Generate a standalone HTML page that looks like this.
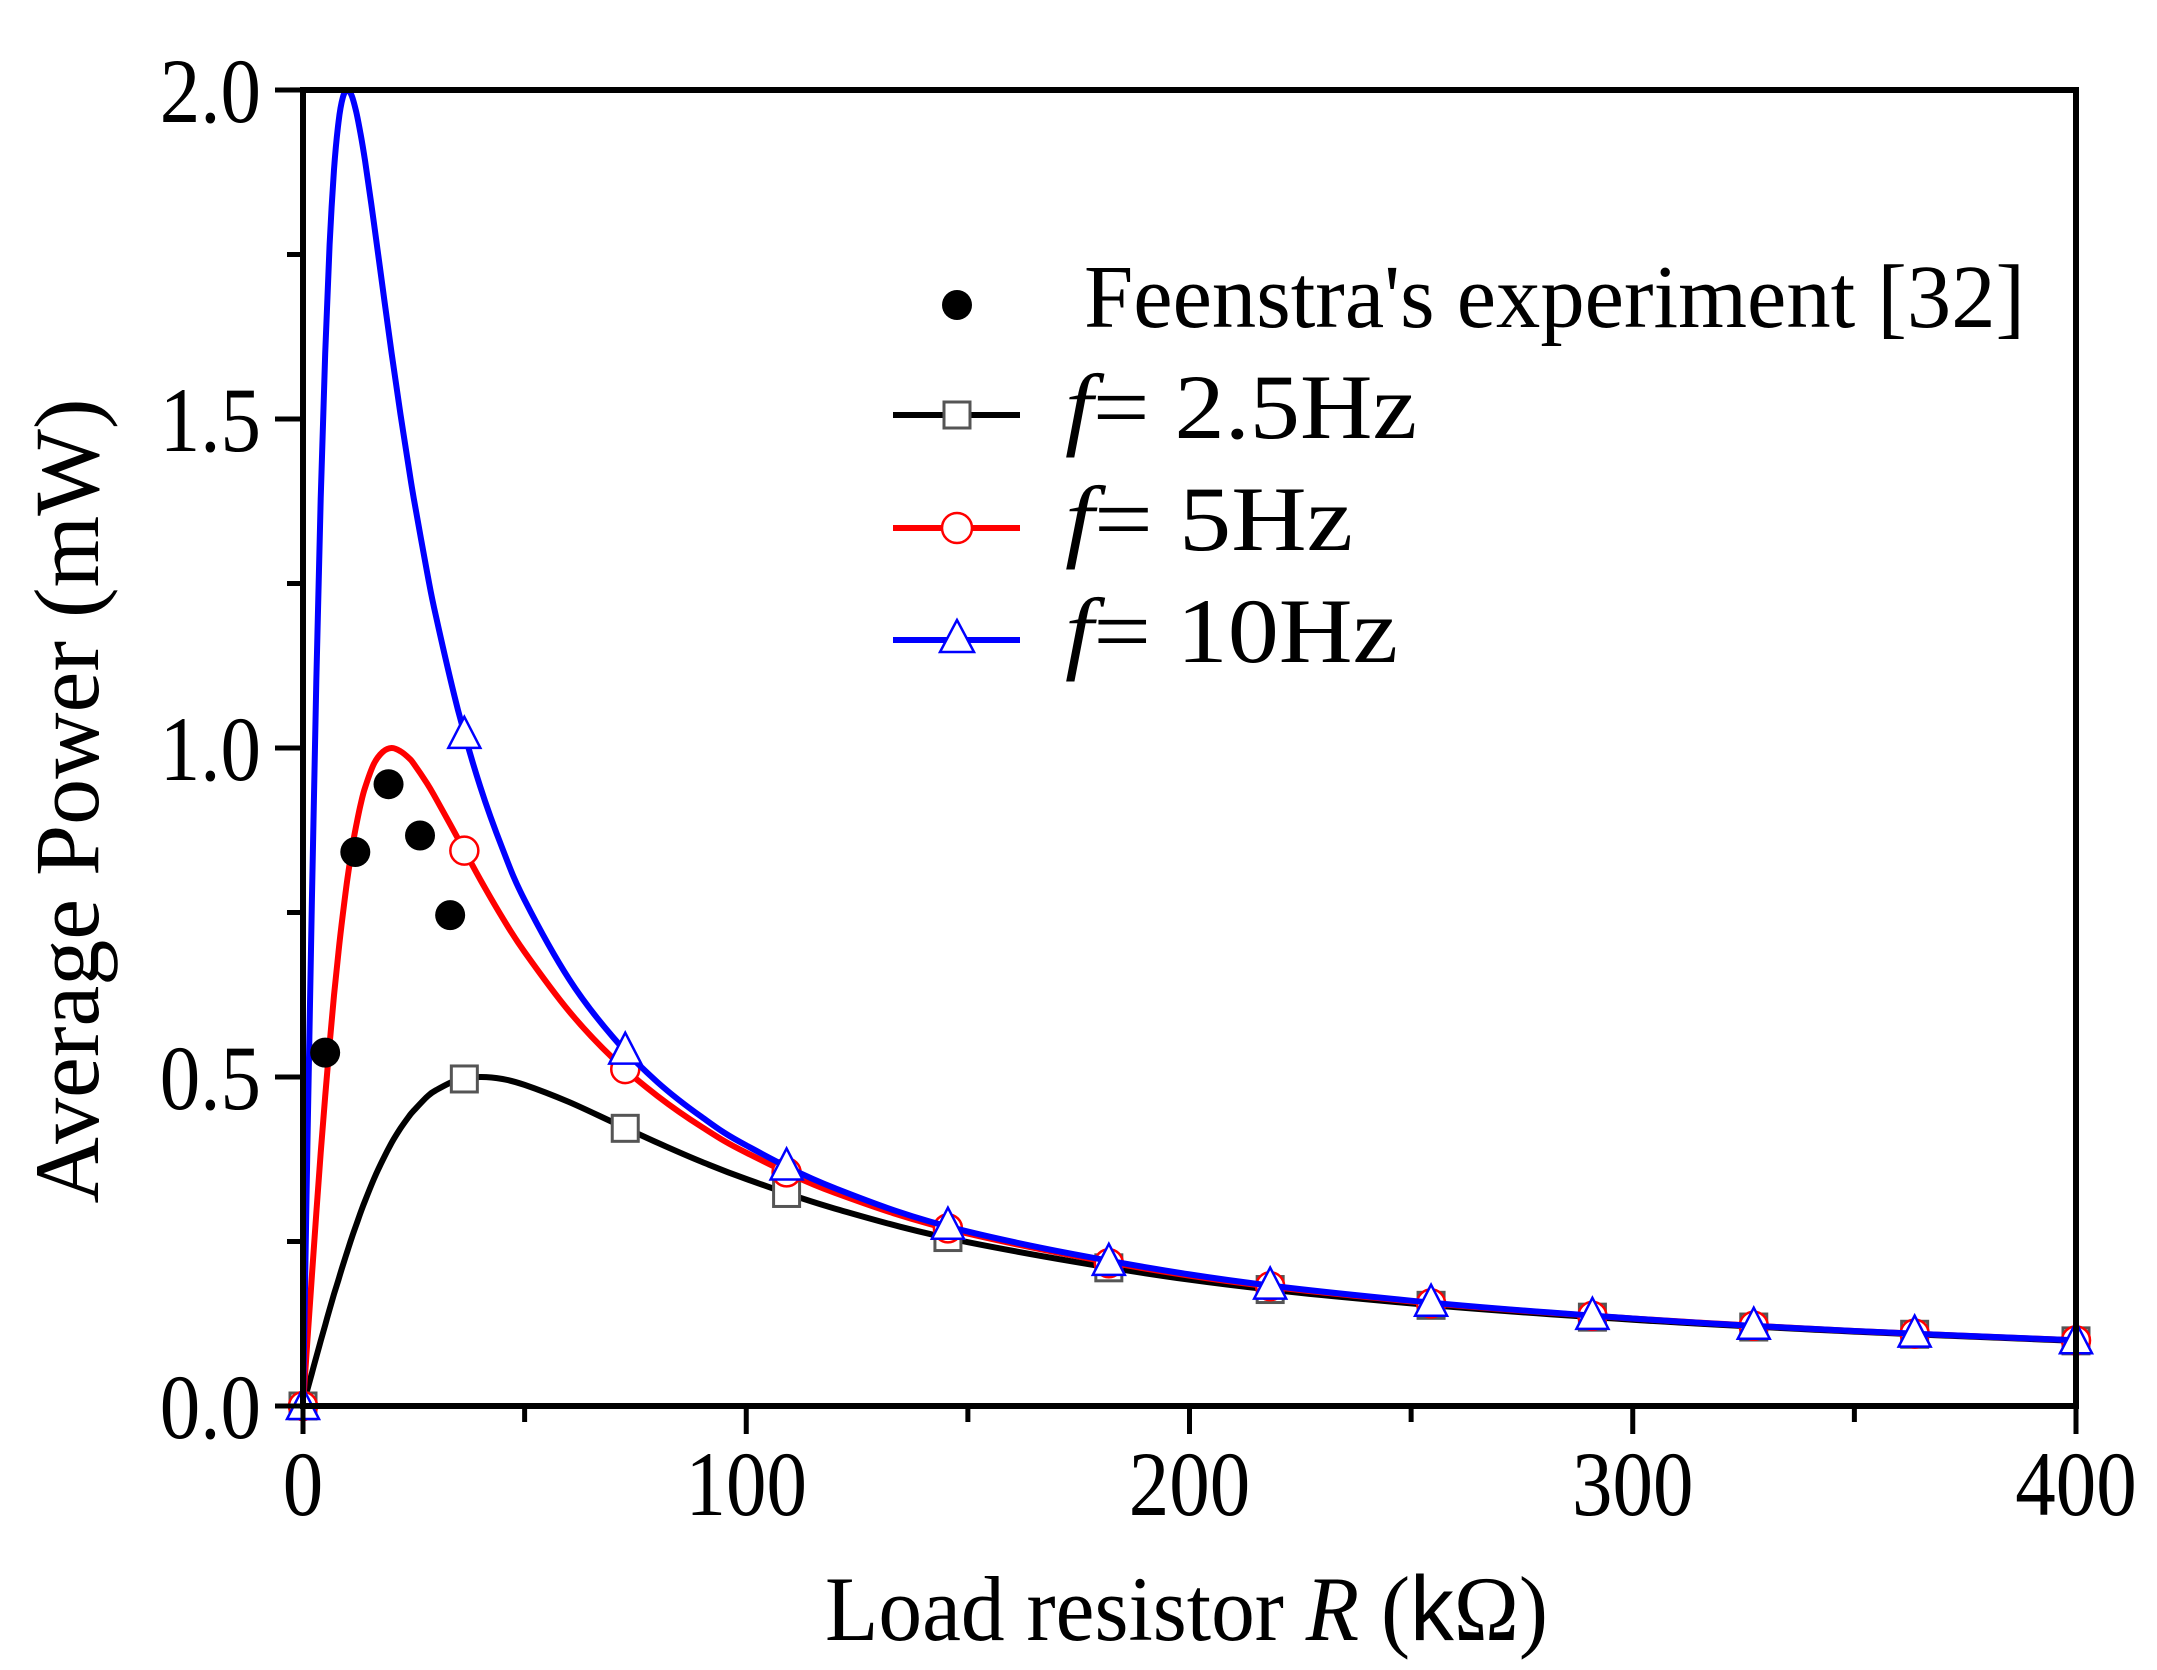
<!DOCTYPE html>
<html><head><meta charset="utf-8"><style>
html,body{margin:0;padding:0;background:#fff;}
svg{display:block;}
text{font-family:"Liberation Serif",serif;fill:#000;}
</style></head><body>
<svg id="chart" width="2157" height="1670" viewBox="0 0 2157 1670" xmlns="http://www.w3.org/2000/svg">
<g id="marks"></g>
<g id="axes"></g>
<g id="legend">
  <circle cx="957" cy="305" r="15" fill="#000"/>
  <text x="1084" y="327" font-size="90" textLength="941" lengthAdjust="spacingAndGlyphs">Feenstra's experiment [32]</text>
  <line x1="893" y1="415" x2="1020" y2="415" stroke="#000" stroke-width="6"/>
  <rect x="944" y="402" width="26" height="26" fill="#fff" stroke="#555" stroke-width="3"/>
  <text x="1065" y="438" font-size="92" textLength="352" lengthAdjust="spacingAndGlyphs"><tspan font-style="italic">f</tspan>= 2.5Hz</text>
  <line x1="893" y1="528" x2="1020" y2="528" stroke="#f00" stroke-width="6"/>
  <circle cx="957" cy="528" r="15" fill="#fff" stroke="#f00" stroke-width="2.5"/>
  <text x="1065" y="550" font-size="92" textLength="288" lengthAdjust="spacingAndGlyphs"><tspan font-style="italic">f</tspan>= 5Hz</text>
  <line x1="893" y1="640" x2="1020" y2="640" stroke="#00f" stroke-width="6"/>
  <polygon points="957,620 940,652 974,652" fill="#fff" stroke="#00f" stroke-width="2.5"/>
  <text x="1065" y="662" font-size="92" textLength="333" lengthAdjust="spacingAndGlyphs"><tspan font-style="italic">f</tspan>= 10Hz</text>
</g>
<text transform="translate(98,801) rotate(-90)" text-anchor="middle" font-size="92" textLength="805" lengthAdjust="spacingAndGlyphs">Average Power (mW)</text>
<text x="825" y="1640" font-size="92" textLength="723" lengthAdjust="spacingAndGlyphs">Load resistor <tspan font-style="italic">R</tspan> (<tspan font-family="Liberation Sans, sans-serif">k</tspan>Ω)</text>
</svg>
<script>
const xTicks=[0,100,200,300,400];
const xMinor=[50,150,250,350];
const yTicks=[0,0.5,1.0,1.5,2.0];
const yMinor=[0.25,0.75,1.25,1.75];
const yTickLabels=["0.0","0.5","1.0","1.5","2.0"];
const curveR=[0,1,2,3,4,5,6,7,8,9,10,11,12,13,14,16,18,20,22,24,25,28,30,35,40,45,50,60,70,80,90,100,120,150,200,250,300,350,400];
const curve25=[0,0.025,0.0499,0.0746,0.099,0.123,0.147,0.170,0.192,0.214,0.235,0.256,0.275,0.294,0.312,0.345,0.374,0.4,0.422,0.441,0.449,0.470,0.48,0.496,0.5,0.497,0.488,0.462,0.431,0.4,0.371,0.345,0.3,0.249,0.192,0.156,0.131,0.113,0.099];
const curve5=[0,0.0998,0.198,0.293,0.385,0.471,0.55,0.624,0.69,0.748,0.8,0.845,0.882,0.914,0.94,0.976,0.994,1.0,0.995,0.984,0.976,0.946,0.923,0.862,0.8,0.742,0.69,0.6,0.528,0.471,0.424,0.385,0.324,0.262,0.198,0.159,0.133,0.114,0.0998];
const curve10=[0,0.396,0.769,1.101,1.379,1.6,1.765,1.879,1.951,1.989,2.0,1.991,1.967,1.933,1.892,1.798,1.698,1.6,1.507,1.42,1.379,1.267,1.2,1.057,0.941,0.847,0.769,0.649,0.56,0.492,0.439,0.396,0.331,0.265,0.2,0.16,0.133,0.114,0.0999];
const markerR=[0,36.4,72.7,109.1,145.5,181.8,218.2,254.5,290.9,327.3,363.6,400];
const marker25=[0,0.497,0.422,0.323,0.256,0.21,0.177,0.153,0.135,0.12,0.109,0.099];
const marker5=[0,0.844,0.512,0.355,0.27,0.217,0.182,0.156,0.137,0.122,0.11,0.0998];
const marker10=[0,1.02,0.54,0.364,0.274,0.219,0.183,0.157,0.137,0.122,0.11,0.0999];
const expR=[5.0,11.8,19.3,26.4,33.2];
const expP=[0.537,0.842,0.945,0.867,0.746];

const X0=303,X1=2076,Y0=1406,Y1=90;
const sx=v=>X0+(v-0)/(400-0)*(X1-X0);
const sy=v=>Y0-(v-0)/(2-0)*(Y0-Y1);
const NS="http://www.w3.org/2000/svg";
const marks=document.getElementById('marks');
const axes=document.getElementById('axes');
function mk(tag,attrs,parent){const e=document.createElementNS(NS,tag);for(const k in attrs)e.setAttribute(k,attrs[k]);parent.appendChild(e);return e;}

function drawCurve(vals,color,name){
  const P=curveR.map((r,i)=>[sx(r),sy(vals[i])]);
  let d='M'+P[0][0].toFixed(1)+' '+P[0][1].toFixed(1);
  for(let i=0;i<P.length-1;i++){
    const p0=P[Math.max(0,i-1)],p1=P[i],p2=P[i+1],p3=P[Math.min(P.length-1,i+2)];
    const c1=[p1[0]+(p2[0]-p0[0])/6,p1[1]+(p2[1]-p0[1])/6];
    const c2=[p2[0]-(p3[0]-p1[0])/6,p2[1]-(p3[1]-p1[1])/6];
    d+=` C${c1[0].toFixed(1)} ${c1[1].toFixed(1)} ${c2[0].toFixed(1)} ${c2[1].toFixed(1)} ${p2[0].toFixed(1)} ${p2[1].toFixed(1)}`;
  }
  const p=mk('path',{d:d,fill:'none',stroke:color,'stroke-width':6,'stroke-linejoin':'round'},marks);
  
  
}
function drawMarkers(vals,kind,color,name){
  markerR.forEach((r,i)=>{
    const x=sx(r),y=sy(vals[i]);let e;
    if(kind==='sq') e=mk('rect',{x:x-13,y:y-13,width:26,height:26,fill:'#fff',stroke:'#555','stroke-width':3},marks);
    else if(kind==='ci') e=mk('circle',{cx:x,cy:y,r:14,fill:'#fff',stroke:color,'stroke-width':2.5},marks);
    else e=mk('polygon',{points:`${x},${y-18} ${x-16},${y+13} ${x+16},${y+13}`,fill:'#fff',stroke:color,'stroke-width':2.5},marks);
    
    
  });
}
drawCurve(curve25,'#000','line-2-5hz');
drawMarkers(marker25,'sq','#000','marker-2-5hz');
drawCurve(curve5,'#f00','line-5hz');
drawMarkers(marker5,'ci','#f00','marker-5hz');
drawCurve(curve10,'#00f','line-10hz');
drawMarkers(marker10,'tr','#00f','marker-10hz');
expR.forEach((r,i)=>{
  const c=mk('circle',{cx:sx(r),cy:sy(expP[i]),r:15,fill:'#000'},marks);
  
  
});

const frame=mk('rect',{x:X0,y:Y1,width:X1-X0,height:Y0-Y1,fill:'none',stroke:'#000','stroke-width':6},axes);


xTicks.forEach((v,i)=>{
  const t=mk('line',{x1:sx(v),y1:Y0,x2:sx(v),y2:Y0+28,stroke:'#000','stroke-width':5},axes);
  
  
  const l=mk('text',{x:sx(v),y:1515,'text-anchor':'middle','font-size':92},axes);
  l.textContent=String(v);
  
  
  l.setAttribute('transform',`translate(${sx(v)*0.12},0) scale(0.88,1)`);
});
xMinor.forEach(v=>{
  const t=mk('line',{x1:sx(v),y1:Y0,x2:sx(v),y2:Y0+16,stroke:'#000','stroke-width':5},axes);
  
  
});
yTicks.forEach((v,i)=>{
  const t=mk('line',{x1:X0-28,y1:sy(v),x2:X0,y2:sy(v),stroke:'#000','stroke-width':5},axes);
  
  
  const l=mk('text',{x:261,y:sy(v)+32,'text-anchor':'end','font-size':92},axes);
  l.textContent=yTickLabels[i];
  
  
  l.setAttribute('transform',`translate(${261*0.12},0) scale(0.88,1)`);
});
yMinor.forEach(v=>{
  const t=mk('line',{x1:X0-16,y1:sy(v),x2:X0,y2:sy(v),stroke:'#000','stroke-width':5},axes);
  
  
});
</script>
</body></html>
